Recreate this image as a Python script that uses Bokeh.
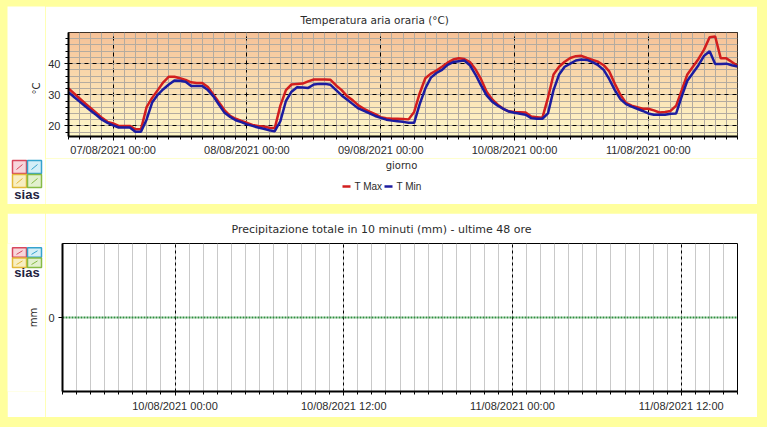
import numpy as np
import pandas as pd
from bokeh.plotting import figure
from bokeh.models import FixedTicker, Range1d, Title
from bokeh.layouts import column, row
from bokeh.embed import file_html
from bokeh.resources import INLINE
from bokeh.core.properties import value

# ---------------- data ----------------
temp_start = "2021-08-06 16:00"
series_names = ["T Max", "T Min"]
tmax = [32.0, 30.4, 28.8, 27.2, 25.7, 24.2, 22.6, 21.3,
        20.8, 20.0, 20.0, 20.0, 18.9, 18.9, 26.0, 29.0, 31.5, 34.0, 35.8, 35.8,
        35.3, 34.8, 34.0, 33.8, 33.8, 32.5, 30.0, 27.5, 25.0, 23.2, 22.3, 21.6,
        21.0, 20.3, 20.0, 19.8, 19.4, 19.3, 26.5, 31.5, 33.3, 33.5, 33.6, 34.3,
        34.9, 34.9, 34.9, 34.8, 33.0, 31.5, 29.5, 28.2, 26.6, 25.5, 24.6, 23.8,
        22.8, 22.5, 22.3, 22.3, 22.2, 22.1, 24.5, 30.5, 35.3, 36.8, 37.8, 39.0,
        40.3, 41.3, 41.7, 41.5, 40.5, 38.2, 35.0, 31.0, 28.5, 26.8, 25.5, 24.7,
        24.5, 24.4, 24.3, 23.0, 22.8, 22.6, 29.0, 36.5, 39.0, 40.6, 41.8, 42.4,
        42.5, 41.8, 41.2, 40.6, 39.5, 37.5, 33.5, 30.0, 27.4, 26.5, 26.0, 25.5,
        25.5, 25.0, 24.3, 24.5, 24.8, 26.5, 31.5, 36.5, 39.0, 41.5, 44.5, 48.5,
        48.7, 41.7, 41.7, 40.5, 39.3]
tmin = [30.8, 29.3, 27.8, 26.3, 24.9, 23.5, 22.0, 21.0,
        20.2, 19.5, 19.5, 19.5, 18.1, 18.1, 22.0, 27.5, 30.0, 31.8, 33.3, 34.6,
        34.5, 34.2, 32.8, 32.8, 32.8, 31.5, 29.5, 26.8, 24.2, 22.9, 21.8, 21.2,
        20.5, 20.0, 19.5, 19.1, 18.6, 18.3, 21.5, 28.0, 31.0, 32.4, 32.3, 32.2,
        33.3, 33.5, 33.5, 33.2, 31.5, 29.8, 28.4, 27.0, 25.6, 24.8, 24.0, 23.2,
        22.6, 22.0, 21.7, 21.5, 21.3, 21.0, 21.0, 27.0, 32.0, 35.5, 37.0, 38.0,
        39.6, 40.5, 40.8, 41.0, 39.5, 36.5, 33.0, 29.8, 27.8, 26.5, 25.5, 24.6,
        24.2, 23.9, 23.6, 22.5, 22.3, 22.3, 24.0, 31.5, 36.5, 39.0, 40.0, 41.0,
        41.3, 41.2, 40.5, 39.5, 38.0, 35.0, 31.5, 28.6, 27.0, 26.2, 25.5, 24.8,
        24.0, 23.6, 23.6, 23.6, 23.9, 24.0, 29.5, 34.5, 37.0, 39.5, 42.5, 44.0,
        39.9, 39.9, 40.0, 39.5, 39.1]
temp_tick_times = ["2021-08-07 00:00", "2021-08-08 00:00", "2021-08-09 00:00",
                   "2021-08-10 00:00", "2021-08-11 00:00"]
temp_tick_labels = ["07/08/2021 00:00", "08/08/2021 00:00", "09/08/2021 00:00",
                    "10/08/2021 00:00", "11/08/2021 00:00"]
temp_yticks = [20, 30, 40]

rain_start = "2021-08-09 16:00"
rain_mm = [0.0] * 49
rain_tick_times = ["2021-08-10 00:00", "2021-08-10 12:00",
                   "2021-08-11 00:00", "2021-08-11 12:00"]
rain_tick_labels = ["10/08/2021 00:00", "10/08/2021 12:00",
                    "11/08/2021 00:00", "11/08/2021 12:00"]


def ms(t):
    return float(pd.Timestamp(t).value // 10**6)


HOUR = 3600 * 1000.0
temp_x = [ms(temp_start) + i * HOUR for i in range(len(tmax))]
rain_x = [ms(rain_start) + i * HOUR for i in range(len(rain_mm))]

TXT = "#2b2b2b"
TITLE_FONT = "DejaVu Sans"
TICK_FONT = "Liberation Sans"
YELLOW = "#FFFF9E"
RED = "#D21E1E"
BLUE = "#1C1CA0"
series_colors = [RED, BLUE]


def blank_fig(w, h):
    f = figure(width=w, height=h, output_backend="svg", toolbar_location=None,
               x_range=Range1d(0, w), y_range=Range1d(0, h), min_border=0,
               x_axis_location=None, y_axis_location=None, tools="",
               border_fill_color="white", background_fill_color="white")
    f.outline_line_color = None
    f.xgrid.visible = False
    f.ygrid.visible = False
    return f


def draw_logo(f, left, top, sq=14):
    # logo boxes in local pixel units (y up); top = y of the upper edge
    fills = ["#F7D6DB", "#D4EEF7", "#F8EEC2", "#E2F0CE"]
    lines = ["#D8485C", "#35A3CC", "#E3B93A", "#86BB45"]
    lefts = [left, left + sq + 1, left, left + sq + 1]
    tops = [top, top, top - sq, top - sq]
    f.quad(left=lefts, right=[l + sq for l in lefts], top=tops,
           bottom=[t - sq + 1 for t in tops], fill_color=fills, line_color=lines,
           line_width=1.5)
    f.segment(x0=[l + 4 for l in lefts], y0=[t - sq + 5 for t in tops],
              x1=[l + sq - 4 for l in lefts], y1=[t - 4 for t in tops],
              line_color=lines, line_width=1)
    f.text(x=[left + sq + 0.5], y=[top - 2 * sq - 6], text=["sias"],
           text_font=value(TICK_FONT), text_font_style="bold",
           text_font_size="13px", text_color="#23233f", text_align="center",
           text_baseline="middle")


def style_axis(ax):
    ax.axis_line_width = 2
    ax.axis_line_color = "black"
    ax.major_tick_in = 0
    ax.major_tick_out = 4
    ax.minor_tick_in = 0
    ax.minor_tick_out = 3
    ax.major_label_text_font = TICK_FONT
    ax.major_label_text_font_size = "11px"
    ax.major_label_text_color = TXT


# ---------------- top panel ----------------
x0, x1 = temp_x[0], temp_x[-1]
y0, y1 = 16.6, 50.0
p1 = figure(width=712, height=152, output_backend="svg", toolbar_location=None,
            x_range=Range1d(x0, x1), y_range=Range1d(y0, y1),
            min_border_left=21, min_border_right=20, min_border_top=26, min_border_bottom=22,
            border_fill_color="white", background_fill_color="#FCE3B8")
p1.outline_line_color = "black"
p1.outline_line_width = 1
p1.add_layout(Title(text="Temperatura aria oraria (°C)", align="left", offset=232,
                    vertical_align="top", text_font=TITLE_FONT, text_font_size="10.5px",
                    text_font_style="normal", text_color=TXT, standoff=10), "above")

# vertical gradient backdrop (style only)
n = 104
img = np.empty((n, 2), dtype=np.uint32)
view = img.view(dtype=np.uint8).reshape((n, 2, 4))
c_bot = np.array([255, 249, 202])
c_top = np.array([246, 194, 152])
for i in range(n):
    t = i / (n - 1)
    c = (c_bot * (1 - t) + c_top * t).astype(np.uint8)
    view[i, :, 0] = c[0]
    view[i, :, 1] = c[1]
    view[i, :, 2] = c[2]
    view[i, :, 3] = 255
p1.image_rgba(image=[img], x=x0, y=y0, dw=x1 - x0, dh=y1 - y0, level="image")

day_ticks = [ms(t) for t in temp_tick_times]
xt = FixedTicker(ticks=day_ticks, minor_ticks=[x0 + k * 2 * HOUR for k in range(0, 61)])
yt = FixedTicker(ticks=temp_yticks, minor_ticks=list(range(18, 50, 2)))

xa = p1.xaxis[0]
xa.ticker = xt
xa.major_label_overrides = {t: l for t, l in zip(day_ticks, temp_tick_labels)}
ya = p1.yaxis[0]
ya.ticker = yt
style_axis(xa)
style_axis(ya)
xa.major_label_standoff = 3
ya.major_label_standoff = 4

for g, tk in ((p1.xgrid[0], xt), (p1.ygrid[0], yt)):
    g.ticker = tk
    g.grid_line_color = "black"
    g.grid_line_dash = "4 4"
    g.grid_line_width = 1
    g.minor_grid_line_color = "#B3ABA0"
    g.minor_grid_line_width = 1

p1.line(temp_x, tmax, line_color=series_colors[0], line_width=2.5)
p1.line(temp_x, tmin, line_color=series_colors[1], line_width=2.5)

# left strip of top panel: y-axis name and logo
left1 = blank_fig(38, 198)
left1.text(x=[29], y=[116], text=["°C"], angle=np.pi / 2, text_font=value(TITLE_FONT),
           text_font_size="10px", text_color=TXT, text_align="center",
           text_baseline="middle")
draw_logo(left1, 5, 44)

# bottom strip of top panel: x-axis name and legend
strip1 = blank_fig(712, 46)
strip1.text(x=[356], y=[39], text=["giorno"], text_font=value(TITLE_FONT),
            text_font_size="10px", text_color=TXT, text_align="center",
            text_baseline="middle")
leg_x = [297, 339]
strip1.segment(x0=leg_x, y0=[18, 18], x1=[x + 8 for x in leg_x], y1=[18, 18],
               line_color=series_colors, line_width=2.5)
strip1.text(x=[x + 12 for x in leg_x], y=[18, 18], text=series_names,
            text_font=value(TICK_FONT), text_font_size="10px", text_color=TXT,
            text_align="left", text_baseline="middle")

# ---------------- bottom panel ----------------
rx0, rx1 = rain_x[0], rain_x[-1]
p2 = figure(width=712, height=204, output_backend="svg", toolbar_location=None,
            x_range=Range1d(rx0, rx1), y_range=Range1d(-1, 1),
            min_border_left=14, min_border_right=20, min_border_top=30, min_border_bottom=26,
            border_fill_color="white", background_fill_color="white")
p2.outline_line_color = "black"
p2.outline_line_width = 1
p2.add_layout(Title(text="Precipitazione totale in 10 minuti (mm) - ultime 48 ore",
                    align="left", offset=169, vertical_align="middle",
                    text_font=TITLE_FONT, text_font_size="11px",
                    text_font_style="normal", text_color=TXT, standoff=14), "above")

rt = [ms(t) for t in rain_tick_times]
xt2 = FixedTicker(ticks=rt, minor_ticks=rain_x)
yt2 = FixedTicker(ticks=[0], minor_ticks=[])
xa2 = p2.xaxis[0]
xa2.ticker = xt2
xa2.major_label_overrides = {t: l for t, l in zip(rt, rain_tick_labels)}
ya2 = p2.yaxis[0]
ya2.ticker = yt2
style_axis(xa2)
style_axis(ya2)
xa2.major_label_standoff = 4
ya2.major_label_standoff = 4

g2 = p2.xgrid[0]
g2.ticker = xt2
g2.grid_line_color = "black"
g2.grid_line_dash = "3 3"
g2.minor_grid_line_color = "#C9C9C9"
g2.minor_grid_line_width = 1
p2.ygrid[0].grid_line_color = None

p2.line(rain_x, rain_mm, line_color="#2F8F3F", line_width=2, line_dash="2 1")

left2 = blank_fig(38, 204)
left2.text(x=[26], y=[102], text=["mm"], angle=np.pi / 2, text_font=value(TITLE_FONT),
           text_font_size="10px", text_color=TXT, text_align="center",
           text_baseline="middle")
draw_logo(left2, 5, 198)

# wrapping each figure in its own row keeps the column from aligning their frames
right1 = column(row(p1), row(strip1))
root1 = column(row(left1, right1, margin=(6, 10, 0, 7)),
               styles={"background-color": YELLOW})
root2 = column(row(left2, p2, margin=(9, 10, 10, 7)),
               styles={"background-color": YELLOW})
open("out.html", "w").write(file_html([root1, root2], INLINE))
